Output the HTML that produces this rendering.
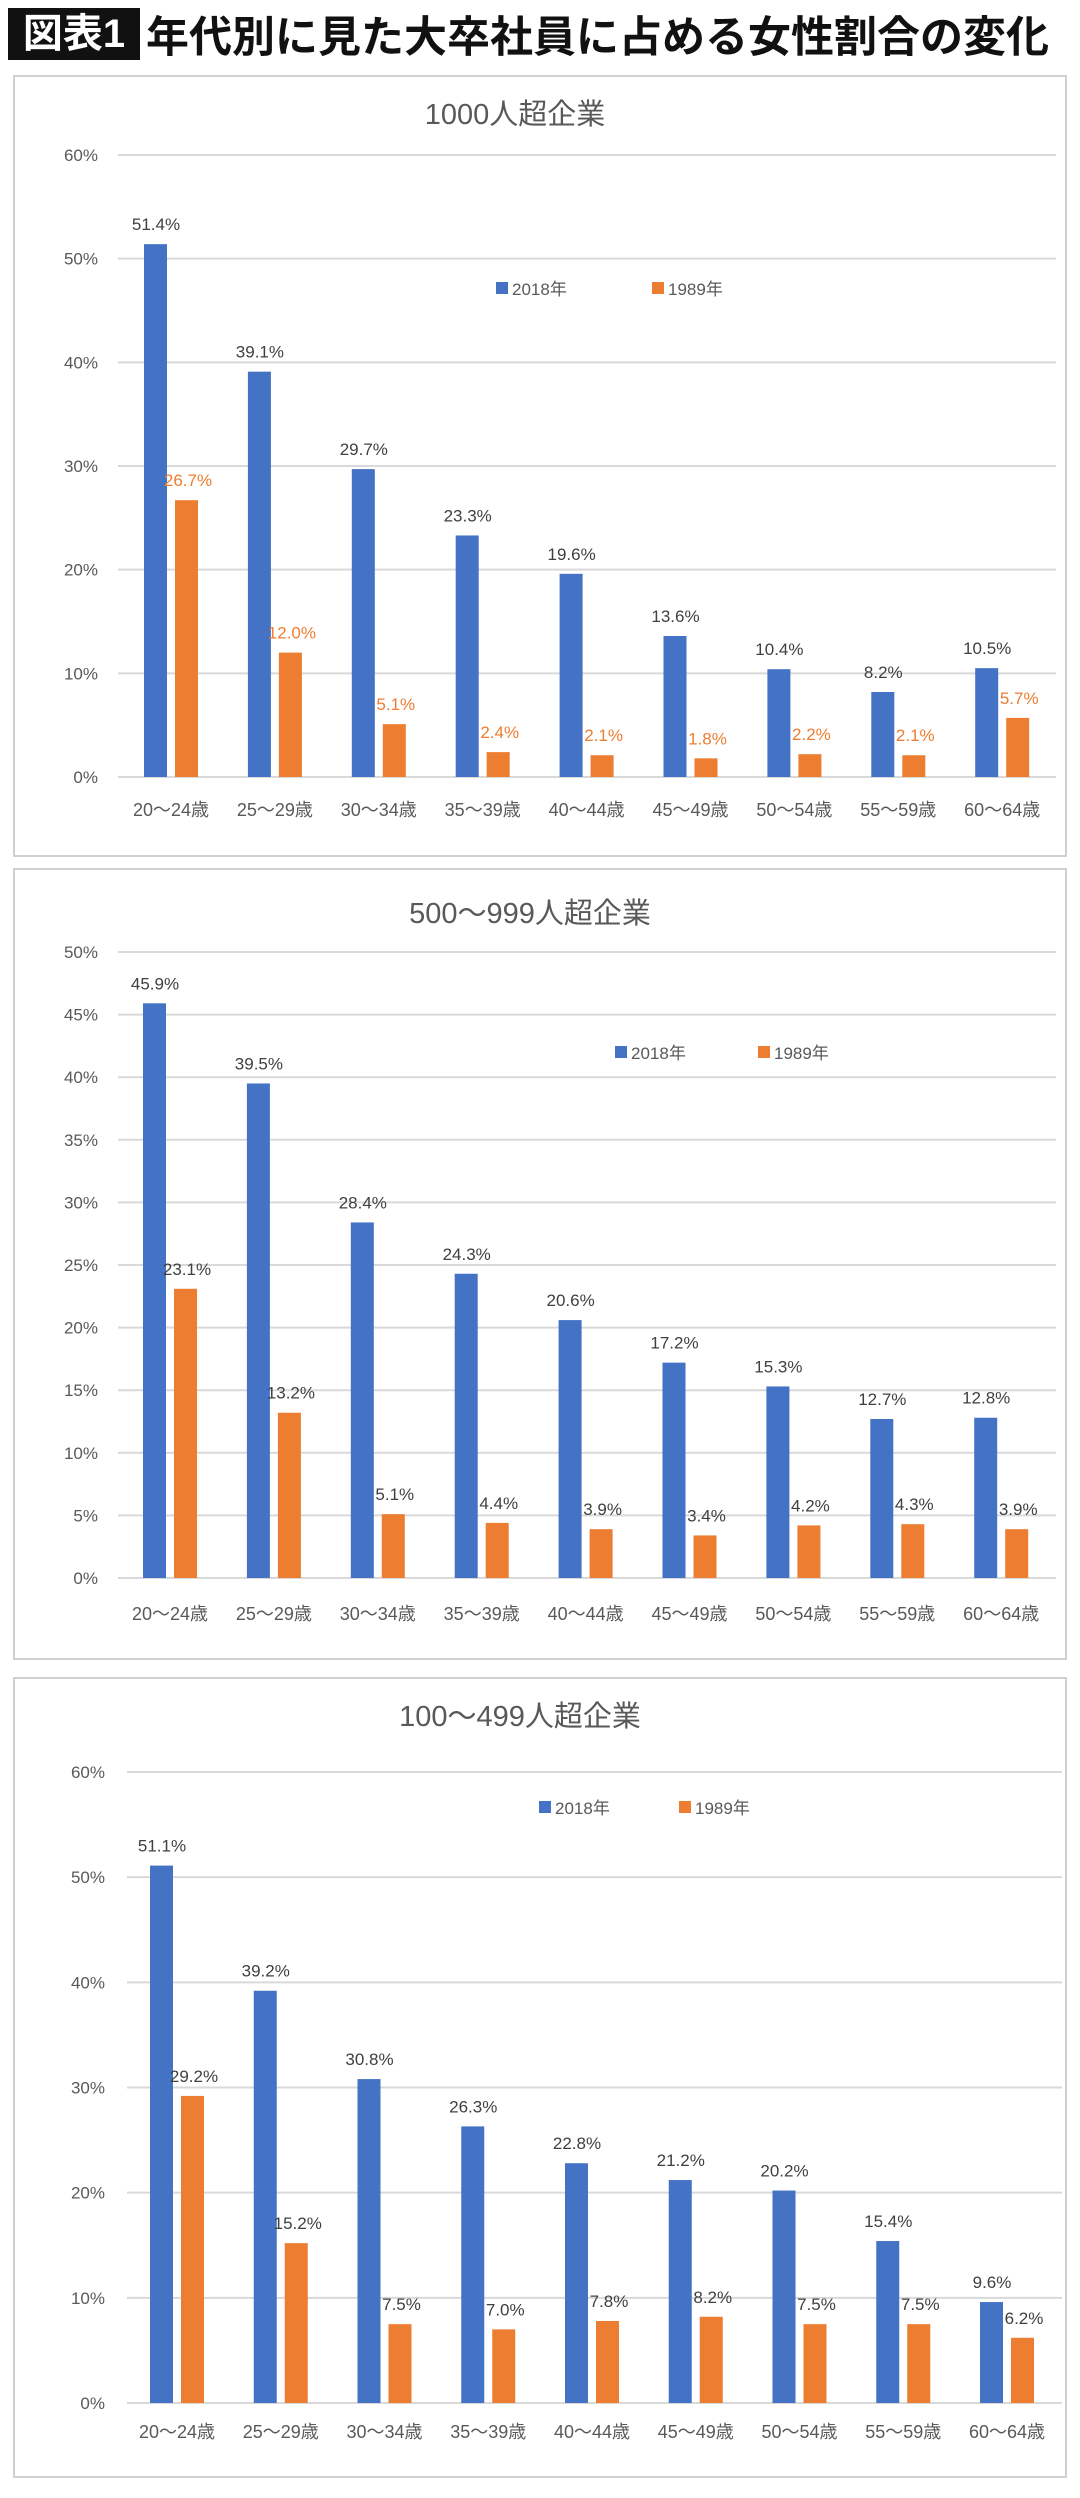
<!DOCTYPE html>
<html><head><meta charset="utf-8">
<style>
html,body{margin:0;padding:0;background:#fff;}
body{width:1080px;height:2498px;position:relative;overflow:hidden;font-family:"Liberation Sans","Noto Sans CJK JP",sans-serif;}
#hdr{position:absolute;left:8px;top:8px;height:52px;display:flex;align-items:center;}
#badge{background:#111;color:#fff;font-weight:bold;font-size:40px;padding:0 6px;width:120px;height:52px;line-height:52px;text-align:center;}
#htitle{font-weight:bold;font-size:43px;color:#111;margin-left:6px;white-space:nowrap;}
svg{position:absolute;left:0;top:0;}
</style></head><body>
<div id="hdr">
<span id="badge">図表1</span>
<span id="htitle">年代別に見た大卒社員に占める女性割合の変化</span>
</div>
<svg id="svg" width="1080" height="2498"></svg>
<script>
const categories=["20〜24歳","25〜29歳","30〜34歳","35〜39歳","40〜44歳","45〜49歳","50〜54歳","55〜59歳","60〜64歳"];
const c1_2018=[51.4,39.1,29.7,23.3,19.6,13.6,10.4,8.2,10.5];
const c1_1989=[26.7,12.0,5.1,2.4,2.1,1.8,2.2,2.1,5.7];
const c2_2018=[45.9,39.5,28.4,24.3,20.6,17.2,15.3,12.7,12.8];
const c2_1989=[23.1,13.2,5.1,4.4,3.9,3.4,4.2,4.3,3.9];
const c3_2018=[51.1,39.2,30.8,26.3,22.8,21.2,20.2,15.4,9.6];
const c3_1989=[29.2,15.2,7.5,7.0,7.8,8.2,7.5,7.5,6.2];
const c1_ticks=[0,10,20,30,40,50,60];
const c2_ticks=[0,5,10,15,20,25,30,35,40,45,50];
const c3_ticks=[0,10,20,30,40,50,60];
const titles=["1000人超企業","500〜999人超企業","100〜499人超企業"];

const NS="http://www.w3.org/2000/svg";
const svg=document.getElementById('svg');
function mk(tag,attrs,parent,text){
  const e=document.createElementNS(NS,tag);
  for(const k in attrs)e.setAttribute(k,attrs[k]);
  if(text!==undefined)e.textContent=text;
  (parent||svg).appendChild(e);return e;
}
const BLUE="#4472C4",ORANGE="#ED7D31";
function chart(id,cfg,s18,s89,ticks){
  const g=mk('g',{});
  
  
  const fr=mk('rect',{x:cfg.fx,y:cfg.fy,width:cfg.fw,height:cfg.fh,fill:'#fff',stroke:'#d0d0d0','stroke-width':2},g);
  
  
  const t=mk('text',{x:cfg.tx,y:cfg.ty,'font-size':29,fill:'#595959','text-anchor':'middle'},g,cfg.title);
  
  
  const max=ticks[ticks.length-1];
  const yS=v=>cfg.y0-(v/max)*(cfg.y0-cfg.yTop);
  const xS=i=>cfg.c0+i*cfg.step;
  ticks.forEach(v=>{
    const l=mk('line',{x1:cfg.gx0,x2:cfg.gx1,y1:yS(v),y2:yS(v),stroke:'#d9d9d9','stroke-width':2},g);
    
    
    const tl=mk('text',{x:cfg.tickX,y:yS(v)+6,'font-size':17,fill:'#595959','text-anchor':'end'},g,v+'%');
    
    
  });
  categories.forEach((c,i)=>{
    const cx=xS(i);
    const b=mk('rect',{x:cx-27,y:yS(s18[i]),width:23,height:cfg.y0-yS(s18[i]),fill:BLUE},g);
    
    
    const o=mk('rect',{x:cx+4,y:yS(s89[i]),width:23,height:cfg.y0-yS(s89[i]),fill:ORANGE},g);
    
    
    const bl=mk('text',{x:cx-15,y:yS(s18[i])-14,'font-size':17,fill:'#404040','text-anchor':'middle'},g,s18[i].toFixed(1)+'%');
    
    
    const ol=mk('text',{x:cx+17,y:yS(s89[i])-14,'font-size':17,fill:cfg.oCol,'text-anchor':'middle'},g,s89[i].toFixed(1)+'%');
    
    
    const xl=mk('text',{x:cx,y:cfg.xly,'font-size':18,fill:'#595959','text-anchor':'middle'},g,c);
    
    
  });
  const lg=mk('g',{},g);
  
  
  const ls1=mk('rect',{x:cfg.lb,y:cfg.ly-7,width:12,height:12,fill:BLUE},lg);
  
  
  const lt1=mk('text',{x:cfg.lb+16,y:cfg.ly+6,'font-size':17,fill:'#595959'},lg,'2018年');
  
  
  const ls2=mk('rect',{x:cfg.lo,y:cfg.ly-7,width:12,height:12,fill:ORANGE},lg);
  
  
  const lt2=mk('text',{x:cfg.lo+16,y:cfg.ly+6,'font-size':17,fill:'#595959'},lg,'1989年');
  
  
}
chart('chart-1000',{fx:14,fy:76,fw:1052,fh:780,title:titles[0],tx:515,ty:124,y0:777,yTop:155,c0:171,step:103.9,gx0:118,gx1:1056,tickX:98,xly:816,lb:496,lo:652,ly:289,oCol:ORANGE},c1_2018,c1_1989,c1_ticks);
chart('chart-500-999',{fx:14,fy:869,fw:1052,fh:790,title:titles[1],tx:530,ty:923,y0:1578,yTop:952,c0:170,step:103.9,gx0:118,gx1:1056,tickX:98,xly:1620,lb:615,lo:758,ly:1053,oCol:'#404040'},c2_2018,c2_1989,c2_ticks);
chart('chart-100-499',{fx:14,fy:1678,fw:1052,fh:799,title:titles[2],tx:520,ty:1726,y0:2403,yTop:1772,c0:177,step:103.75,gx0:127,gx1:1062,tickX:105,xly:2438,lb:539,lo:679,ly:1808,oCol:'#404040'},c3_2018,c3_1989,c3_ticks);
</script>
</body></html>
